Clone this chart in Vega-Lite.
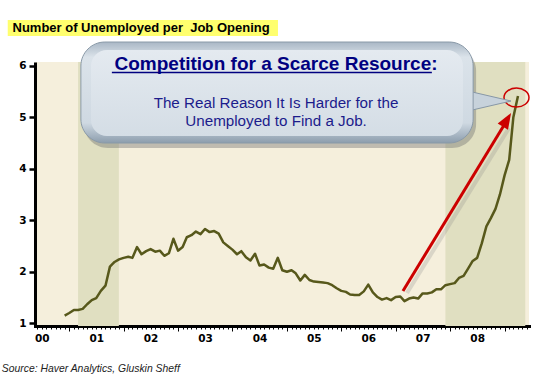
{
  "$schema": "https://vega.github.io/schema/vega-lite/v6.json",
  "width": 494,
  "height": 264,
  "autosize": {"type": "none"},
  "padding": {"left": 35, "top": 62, "right": 26, "bottom": 54},
  "background": "white",
  "config": {
    "view": {"fill": "#f5efdc", "stroke": null},
    "text": {"font": "Liberation Sans"}
  },
  "datasets": {
    "series": [
      {"date": "2000-12-01", "value": 1.15},
      {"date": "2001-01-01", "value": 1.20},
      {"date": "2001-02-01", "value": 1.26},
      {"date": "2001-03-01", "value": 1.26},
      {"date": "2001-04-01", "value": 1.28},
      {"date": "2001-05-01", "value": 1.37},
      {"date": "2001-06-01", "value": 1.45},
      {"date": "2001-07-01", "value": 1.49},
      {"date": "2001-08-01", "value": 1.63},
      {"date": "2001-09-01", "value": 1.73},
      {"date": "2001-10-01", "value": 2.10},
      {"date": "2001-11-01", "value": 2.19},
      {"date": "2001-12-01", "value": 2.24},
      {"date": "2002-01-01", "value": 2.27},
      {"date": "2002-02-01", "value": 2.29},
      {"date": "2002-03-01", "value": 2.27},
      {"date": "2002-04-01", "value": 2.48},
      {"date": "2002-05-01", "value": 2.34},
      {"date": "2002-06-01", "value": 2.40},
      {"date": "2002-07-01", "value": 2.44},
      {"date": "2002-08-01", "value": 2.39},
      {"date": "2002-09-01", "value": 2.41},
      {"date": "2002-10-01", "value": 2.31},
      {"date": "2002-11-01", "value": 2.36},
      {"date": "2002-12-01", "value": 2.64},
      {"date": "2003-01-01", "value": 2.41},
      {"date": "2003-02-01", "value": 2.48},
      {"date": "2003-03-01", "value": 2.67},
      {"date": "2003-04-01", "value": 2.71},
      {"date": "2003-05-01", "value": 2.78},
      {"date": "2003-06-01", "value": 2.73},
      {"date": "2003-07-01", "value": 2.83},
      {"date": "2003-08-01", "value": 2.77},
      {"date": "2003-09-01", "value": 2.79},
      {"date": "2003-10-01", "value": 2.74},
      {"date": "2003-11-01", "value": 2.57},
      {"date": "2003-12-01", "value": 2.50},
      {"date": "2004-01-01", "value": 2.43},
      {"date": "2004-02-01", "value": 2.34},
      {"date": "2004-03-01", "value": 2.40},
      {"date": "2004-04-01", "value": 2.28},
      {"date": "2004-05-01", "value": 2.22},
      {"date": "2004-06-01", "value": 2.35},
      {"date": "2004-07-01", "value": 2.12},
      {"date": "2004-08-01", "value": 2.14},
      {"date": "2004-09-01", "value": 2.08},
      {"date": "2004-10-01", "value": 2.06},
      {"date": "2004-11-01", "value": 2.27},
      {"date": "2004-12-01", "value": 2.03},
      {"date": "2005-01-01", "value": 2.00},
      {"date": "2005-02-01", "value": 2.03},
      {"date": "2005-03-01", "value": 1.97},
      {"date": "2005-04-01", "value": 1.83},
      {"date": "2005-05-01", "value": 1.94},
      {"date": "2005-06-01", "value": 1.84},
      {"date": "2005-07-01", "value": 1.81},
      {"date": "2005-08-01", "value": 1.80},
      {"date": "2005-09-01", "value": 1.79},
      {"date": "2005-10-01", "value": 1.78},
      {"date": "2005-11-01", "value": 1.74},
      {"date": "2005-12-01", "value": 1.68},
      {"date": "2006-01-01", "value": 1.63},
      {"date": "2006-02-01", "value": 1.61},
      {"date": "2006-03-01", "value": 1.56},
      {"date": "2006-04-01", "value": 1.55},
      {"date": "2006-05-01", "value": 1.55},
      {"date": "2006-06-01", "value": 1.62},
      {"date": "2006-07-01", "value": 1.75},
      {"date": "2006-08-01", "value": 1.60},
      {"date": "2006-09-01", "value": 1.51},
      {"date": "2006-10-01", "value": 1.46},
      {"date": "2006-11-01", "value": 1.49},
      {"date": "2006-12-01", "value": 1.45},
      {"date": "2007-01-01", "value": 1.51},
      {"date": "2007-02-01", "value": 1.52},
      {"date": "2007-03-01", "value": 1.43},
      {"date": "2007-04-01", "value": 1.48},
      {"date": "2007-05-01", "value": 1.50},
      {"date": "2007-06-01", "value": 1.48},
      {"date": "2007-07-01", "value": 1.58},
      {"date": "2007-08-01", "value": 1.58},
      {"date": "2007-09-01", "value": 1.60},
      {"date": "2007-10-01", "value": 1.66},
      {"date": "2007-11-01", "value": 1.66},
      {"date": "2007-12-01", "value": 1.74},
      {"date": "2008-01-01", "value": 1.76},
      {"date": "2008-02-01", "value": 1.78},
      {"date": "2008-03-01", "value": 1.88},
      {"date": "2008-04-01", "value": 1.92},
      {"date": "2008-05-01", "value": 2.06},
      {"date": "2008-06-01", "value": 2.21},
      {"date": "2008-07-01", "value": 2.27},
      {"date": "2008-08-01", "value": 2.55},
      {"date": "2008-09-01", "value": 2.88},
      {"date": "2008-10-01", "value": 3.04},
      {"date": "2008-11-01", "value": 3.22},
      {"date": "2008-12-01", "value": 3.50},
      {"date": "2009-01-01", "value": 3.87},
      {"date": "2009-02-01", "value": 4.17},
      {"date": "2009-03-01", "value": 5.00},
      {"date": "2009-04-01", "value": 5.41}
    ],
    "recessions": [
      {"start": "2001-03-01", "end": "2001-11-30"},
      {"start": "2007-12-01", "end": "2009-05-20"}
    ],
    "one": [{}]
  },
  "layer": [
    {
      "data": {"name": "recessions"},
      "mark": {"type": "rect", "color": "#e0dfc1"},
      "encoding": {
        "x": {"field": "start", "type": "temporal"},
        "x2": {"field": "end"}
      }
    },
    {
      "data": {"name": "series"},
      "mark": {"type": "line", "color": "#57581b", "strokeWidth": 2.5, "strokeJoin": "round"},
      "encoding": {
        "x": {
          "field": "date",
          "type": "temporal",
          "scale": {
            "type": "utc",
            "nice": false,
            "domain": [
              {"year": 2000, "month": 5, "date": 16, "utc": true},
              {"year": 2009, "month": 6, "date": 14, "utc": true}
            ]
          },
          "axis": {
            "title": null,
            "grid": false,
            "domainColor": "black",
            "domainWidth": 3,
            "domainCap": "square",
            "tickColor": "black",
            "tickWidth": 1,
            "tickCount": {"interval": "month", "step": 1},
            "tickSize": {"condition": {"test": "utcmonth(datum.value) == 0", "value": 5}, "value": 3},
            "labelExpr": "utcmonth(datum.value) == 6 ? utcFormat(datum.value, '%y') : ''",
            "labelFont": "DejaVu Sans",
            "labelFontWeight": "bold",
            "labelFontSize": 10.5,
            "labelColor": "black",
            "labelPadding": 4,
            "labelOverlap": false,
            "labelBound": false,
            "labelFlush": false
          }
        },
        "y": {
          "field": "value",
          "type": "quantitative",
          "scale": {"domain": [0.948, 6.07], "nice": false, "zero": false},
          "axis": {
            "title": null,
            "grid": false,
            "values": [1, 2, 3, 4, 5, 6],
            "domainColor": "black",
            "domainWidth": 3,
            "tickColor": "black",
            "tickWidth": 2.5,
            "tickSize": 6,
            "labelFont": "DejaVu Sans",
            "labelFontWeight": "bold",
            "labelFontSize": 10.5,
            "labelColor": "black",
            "labelPadding": 3
          }
        }
      }
    },
    {
      "data": {"name": "one"},
      "mark": {"type": "rule", "color": "#888888", "opacity": 0.25, "strokeWidth": 4},
      "encoding": {
        "x": {"datum": {"year": 2007, "month": 3, "date": 18, "utc": true}, "type": "temporal"},
        "y": {"datum": 1.588, "type": "quantitative"},
        "x2": {"datum": {"year": 2009, "month": 1, "date": 31, "utc": true}},
        "y2": {"datum": 4.79}
      }
    },
    {
      "data": {"name": "one"},
      "mark": {"type": "rule", "color": "#cc0000", "strokeWidth": 3},
      "encoding": {
        "x": {"datum": {"year": 2007, "month": 2, "date": 19, "utc": true}, "type": "temporal"},
        "y": {"datum": 1.627, "type": "quantitative"},
        "x2": {"datum": {"year": 2008, "month": 12, "date": 29, "utc": true}},
        "y2": {"datum": 4.848}
      }
    },
    {
      "data": {"name": "one"},
      "mark": {"type": "point", "shape": "M 0 -1 L 0.75 1 L -0.75 1 Z", "size": 256, "angle": 31, "filled": true, "color": "#cc0000", "opacity": 1},
      "encoding": {
        "x": {"datum": {"year": 2009, "month": 1, "date": 17, "utc": true}, "type": "temporal"},
        "y": {"datum": 4.948, "type": "quantitative"}
      }
    },
    {
      "data": {"name": "one"},
      "mark": {"type": "point", "shape": "M -1 0 C -1 -0.42 -0.552 -0.76 0 -0.76 C 0.552 -0.76 1 -0.42 1 0 C 1 0.42 0.552 0.76 0 0.76 C -0.552 0.76 -1 0.42 -1 0 Z", "size": 625, "filled": false, "color": "#cc0000", "strokeWidth": 1.5, "opacity": 1},
      "encoding": {
        "x": {"datum": {"year": 2009, "month": 3, "date": 22, "utc": true}, "type": "temporal"},
        "y": {"datum": 5.381, "type": "quantitative"}
      }
    },
    {
      "data": {"name": "one"},
      "mark": {"type": "rect", "color": "#6f6f6f", "opacity": 0.4, "cornerRadius": 24},
      "encoding": {
        "x": {"datum": {"year": 2001, "month": 4, "date": 9, "utc": true}, "type": "temporal"},
        "x2": {"datum": {"year": 2008, "month": 6, "date": 24, "utc": true}},
        "y": {"datum": 6.361, "type": "quantitative"},
        "y2": {"datum": 4.401}
      }
    },
    {
      "data": {"name": "one"},
      "mark": {"type": "point", "shape": "M -1 -0.465 L 1 0 L -1 0.465 Z", "size": 1849, "filled": true, "fill": "#c7d2db", "stroke": "#8797a6", "strokeWidth": 1, "opacity": 1},
      "encoding": {
        "x": {"datum": {"year": 2008, "month": 9, "date": 22, "utc": true}, "type": "temporal"},
        "y": {"datum": 5.313, "type": "quantitative"}
      }
    },
    {
      "data": {"name": "one"},
      "mark": {
        "type": "rect",
        "cornerRadius": 24,
        "stroke": "#8a9aa8",
        "strokeWidth": 1,
        "fill": {
          "gradient": "linear", "x1": 0, "y1": 0, "x2": 0, "y2": 1,
          "stops": [
            {"offset": 0, "color": "#a9b7c5"},
            {"offset": 0.15, "color": "#dbe3ea"},
            {"offset": 0.8, "color": "#cfd9e2"},
            {"offset": 1, "color": "#8c9dad"}
          ]
        }
      },
      "encoding": {
        "x": {"datum": {"year": 2001, "month": 3, "date": 20, "utc": true}, "type": "temporal"},
        "x2": {"datum": {"year": 2008, "month": 6, "date": 4, "utc": true}},
        "y": {"datum": 6.458, "type": "quantitative"},
        "y2": {"datum": 4.498}
      }
    },
    {
      "data": {"name": "one"},
      "mark": {
        "type": "rect",
        "cornerRadius": 16,
        "fill": {
          "gradient": "linear", "x1": 0, "y1": 0, "x2": 0, "y2": 1,
          "stops": [
            {"offset": 0, "color": "#e4eaf0"},
            {"offset": 1, "color": "#d4dde5"}
          ]
        }
      },
      "encoding": {
        "x": {"datum": {"year": 2001, "month": 5, "date": 27, "utc": true}, "type": "temporal"},
        "x2": {"datum": {"year": 2008, "month": 3, "date": 28, "utc": true}},
        "y": {"datum": 6.303, "type": "quantitative"},
        "y2": {"datum": 4.634}
      }
    },
    {
      "data": {"name": "one"},
      "mark": {"type": "text", "text": "Competition for a Scarce Resource:", "font": "Liberation Sans", "fontSize": 19, "fontWeight": "bold", "color": "#000080", "align": "center", "baseline": "alphabetic"},
      "encoding": {
        "x": {"datum": {"year": 2004, "month": 10, "date": 20, "utc": true}, "type": "temporal"},
        "y": {"datum": 5.915, "type": "quantitative"}
      }
    },
    {
      "data": {"name": "one"},
      "mark": {"type": "rule", "color": "#000080", "strokeWidth": 1.5},
      "encoding": {
        "x": {"datum": {"year": 2001, "month": 10, "date": 14, "utc": true}, "type": "temporal"},
        "x2": {"datum": {"year": 2007, "month": 9, "date": 1, "utc": true}},
        "y": {"datum": 5.866, "type": "quantitative"}
      }
    },
    {
      "data": {"name": "one"},
      "mark": {"type": "text", "text": "The Real Reason It Is Harder for the", "font": "Liberation Sans", "fontSize": 15.2, "color": "#1c1c8c", "align": "center", "baseline": "alphabetic"},
      "encoding": {
        "x": {"datum": {"year": 2004, "month": 10, "date": 20, "utc": true}, "type": "temporal"},
        "y": {"datum": 5.178, "type": "quantitative"}
      }
    },
    {
      "data": {"name": "one"},
      "mark": {"type": "text", "text": "Unemployed to Find a Job.", "font": "Liberation Sans", "fontSize": 15.2, "color": "#1c1c8c", "align": "center", "baseline": "alphabetic"},
      "encoding": {
        "x": {"datum": {"year": 2004, "month": 10, "date": 20, "utc": true}, "type": "temporal"},
        "y": {"datum": 4.834, "type": "quantitative"}
      }
    },
    {
      "data": {"name": "one"},
      "mark": {"type": "rect", "color": "#ffff6e"},
      "encoding": {
        "x": {"datum": {"year": 1999, "month": 11, "date": 15, "utc": true}, "type": "temporal"},
        "x2": {"datum": {"year": 2004, "month": 11, "date": 2, "utc": true}},
        "y": {"datum": 6.885, "type": "quantitative"},
        "y2": {"datum": 6.574}
      }
    },
    {
      "data": {"name": "one"},
      "mark": {"type": "text", "text": "Number of Unemployed per\u00a0 Job Opening", "font": "Liberation Sans", "fontSize": 13, "fontWeight": "bold", "color": "black", "align": "left", "baseline": "alphabetic"},
      "encoding": {
        "x": {"datum": {"year": 1999, "month": 12, "date": 17, "utc": true}, "type": "temporal"},
        "y": {"datum": 6.652, "type": "quantitative"}
      }
    },
    {
      "data": {"name": "one"},
      "mark": {"type": "text", "text": "Source: Haver Analytics, Gluskin Sheff", "font": "Liberation Sans", "fontSize": 10.4, "fontStyle": "italic", "color": "#222222", "align": "left", "baseline": "alphabetic"},
      "encoding": {
        "x": {"datum": {"year": 1999, "month": 10, "date": 6, "utc": true}, "type": "temporal"},
        "y": {"datum": 0.056, "type": "quantitative"}
      }
    }
  ]
}
